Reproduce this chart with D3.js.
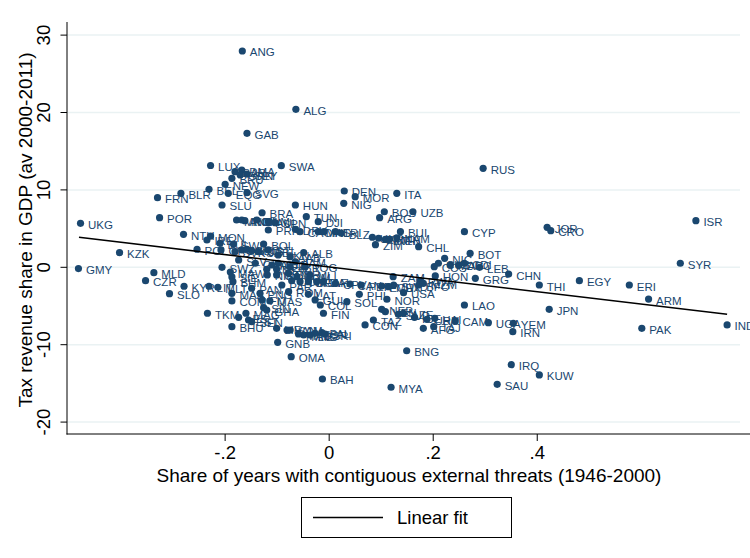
<!DOCTYPE html>
<html lang="en">
<head>
<meta charset="utf-8">
<title>Tax revenue vs external threats</title>
<script src="https://d3js.org/d3.v7.min.js"></script>
<style>
    body { margin: 0; background: #fff; }
    svg { display: block; font-family: "Liberation Sans", Arial, Helvetica, sans-serif; }
    .pt-label { font-size: 11.5px; fill: #1a476f; }
    .tick-label { font-size: 18.5px; fill: #000; }
    .axis-title { font-size: 19px; fill: #000; }
    .legend-text { font-size: 18.5px; fill: #000; }
</style>
</head>
<body>
<svg id="chart" width="750" height="558"></svg>
<script>
// country codes (COW) with x = share of years with threats, y = tax revenue share
const codes = [
  "ANG","ALG","GAB","RUS","LUX","SWA","DMA","BAR","GRN","SEY","BRU","BEL","NEW","EQG","SVG",
  "FRN","BLR","SLU","UKG","POR","HUN","DEN","MOR","NIG","ITA","BOS","UZB","ARG","BUI","CYP",
  "UKR","ETH","KEN","NAM","ZIM","CHL","BOT","NIC","CUB","COS","MAC","DRC","CDI","LEB","CHN",
  "GRG","HON","ZAM","RWA","BFO","MZM","USA","SWD","MEX","ECU","PER","CAN","PHI","NOR","SOL",
  "LAO","NEP","VEN","SUD","AZE","ICE","URU","HAI","TAZ","CON","AFG","TAJ","CAM","UGA","YEM",
  "IRN","BNG","IRQ","KUW","SAU","MYA","BAH","OMA","GNB","JOR","CRO","ISR","SYR","THI","EGY",
  "ERI","ARM","JPN","PAK","IND","KZK","GMY","MLD","CZR","SLO","KYR","LIT","MLT","SWZ","MAW",
  "SIE","BHM","MAA","COM","PAN","PNG","FIJ","SIN","MAS","TKM","LES","MAG","EST","SEN","BHU",
  "GHA","AUS","NIR","BEN","GAM","PAR","ROM","LAT","MLI","SOM","DOM","TUR","CHA","CAF","ZAI",
  "CPV","GUI","COL","FIN","LIE","VAN","SAM","MAD","MNG","LIB","TON","PAL","SRI","NTH","MON",
  "IRE","BUL","SWI","POL","GRC","SVK","AUT","GEO","YUG","SRB","BOL","STL","SKN","AAB","ALB",
  "JAM","STP","LBR","MOZ","GUA","SLV","TOG","SUR","BRA","MNC","AND","ROK","SNM","AUL","SPN",
  "PRK","TUN","DJI","DRV","CAO","MAL","INS","TRI","BLZ","ETM"
];
const xValues = [
  -0.167,-0.064,-0.158,0.296,-0.228,-0.092,-0.168,-0.181,-0.171,-0.158,-0.187,-0.231,-0.200,-0.194,-0.158,
  -0.330,-0.285,-0.206,-0.478,-0.326,-0.065,0.029,0.050,0.028,0.130,0.106,0.161,0.097,0.137,0.260,
  0.083,0.108,0.116,0.130,0.089,0.172,0.271,0.222,0.210,0.202,0.233,0.249,0.260,0.289,0.345,
  0.281,0.204,0.123,0.175,0.172,0.181,0.143,0.124,0.114,0.101,0.061,0.040,0.058,0.111,0.034,
  0.260,0.101,0.108,0.133,0.143,0.164,0.188,0.203,0.085,0.069,0.181,0.201,0.242,0.306,0.354,
  0.353,0.149,0.350,0.404,0.323,0.119,-0.013,-0.073,-0.099,0.419,0.426,0.705,0.675,0.404,0.481,
  0.577,0.614,0.423,0.601,0.765,-0.403,-0.482,-0.337,-0.353,-0.307,-0.279,-0.231,-0.214,-0.206,-0.190,
  -0.187,-0.185,-0.187,-0.187,-0.149,-0.133,-0.129,-0.126,-0.114,-0.234,-0.174,-0.160,-0.155,-0.149,-0.187,
  -0.120,-0.120,-0.119,-0.101,-0.101,-0.091,-0.078,-0.040,-0.037,-0.062,-0.072,-0.056,-0.040,-0.024,-0.011,
  0.012,-0.027,-0.017,-0.011,-0.101,-0.081,-0.075,-0.059,-0.049,-0.037,-0.027,-0.014,-0.008,-0.280,-0.228,
  -0.235,-0.210,-0.184,-0.254,-0.208,-0.181,-0.168,-0.158,-0.149,-0.136,-0.126,-0.117,-0.098,-0.075,-0.049,
  -0.065,-0.098,-0.075,-0.110,-0.142,-0.174,-0.046,-0.078,-0.129,-0.178,-0.168,-0.162,-0.139,-0.117,-0.104,
  -0.117,-0.044,-0.021,-0.065,-0.056,-0.021,-0.010,0.012,0.023,0.095
];
const yValues = [
  27.95,20.41,17.31,12.79,13.15,13.13,12.57,12.35,11.93,12.05,11.50,10.08,10.72,9.56,9.64,
  8.99,9.56,8.05,5.68,6.41,8.05,9.86,9.12,8.27,9.56,7.18,7.18,6.41,4.60,4.60,
  3.88,3.62,3.62,3.82,2.92,2.66,1.81,1.16,0.52,0.08,0.30,0.30,0.52,0.00,-0.87,
  -1.42,-1.12,-1.21,-1.73,-2.29,-2.07,-3.28,-2.29,-2.51,-2.42,-2.29,-2.16,-3.49,-4.13,-4.44,
  -4.87,-5.43,-5.74,-6.07,-5.94,-6.46,-6.72,-6.59,-6.81,-7.45,-7.88,-7.67,-6.90,-7.16,-7.24,
  -8.32,-10.78,-12.58,-13.91,-15.12,-15.50,-14.43,-11.55,-9.69,5.17,4.73,6.02,0.52,-2.29,-1.73,
  -2.29,-4.10,-5.43,-7.88,-7.45,1.89,-0.16,-0.70,-1.73,-3.41,-2.45,-2.45,-2.58,0.00,-0.61,
  -1.25,-1.86,-3.36,-4.35,-2.71,-3.36,-4.22,-5.22,-4.35,-5.94,-6.46,-5.94,-6.81,-7.03,-7.67,
  -5.52,-0.26,-0.99,-0.26,-0.99,-2.29,-3.15,-3.49,-0.99,-1.21,-1.73,-1.86,-1.86,-1.86,-1.86,
  -2.07,-4.22,-4.87,-5.94,-7.88,-8.10,-8.10,-8.62,-8.75,-8.75,-8.53,-8.45,-8.62,4.26,4.04,
  3.53,3.10,3.01,2.33,2.24,2.02,2.24,2.33,2.14,2.02,3.01,2.24,1.59,1.37,1.89,
  0.72,0.52,0.08,0.30,0.52,0.94,0.08,-0.78,7.05,6.11,6.11,6.02,6.11,5.89,5.76,
  4.82,6.54,5.89,4.91,4.60,4.60,4.60,4.60,4.43,3.75
];
// linear fit, end points
const fitX = [-0.481, 0.765];
const fitY = [3.88, -6.07];

const xTicks = [-0.2, 0, 0.2, 0.4];
const xTickLabels = ["-.2", "0", ".2", ".4"];
const yTicks = [-20, -10, 0, 10, 20, 30];

const navy = "#1a476f";
const svg = d3.select("#chart");

const x = d3.scaleLinear().domain([-0.504, 0.809]).range([67, 750]);
const y = d3.scaleLinear().domain([-21.5, 31.5]).range([433.7, 23.5]);

// grid lines
svg.append("g").selectAll("line")
    .data(yTicks)
    .enter().append("line")
    .attr("x1", 67).attr("x2", 740)
    .attr("y1", d => y(d)).attr("y2", d => y(d))
    .attr("stroke", "#eaf2f3").attr("stroke-width", 1.5);

// y axis
const yAxis = svg.append("g");
yAxis.append("line")
    .attr("x1", 67).attr("x2", 67).attr("y1", 22).attr("y2", 434.5)
    .attr("stroke", "#000").attr("stroke-width", 1);
yAxis.selectAll(".yt").data(yTicks).enter().append("line")
    .attr("x1", 60.5).attr("x2", 67)
    .attr("y1", d => y(d)).attr("y2", d => y(d))
    .attr("stroke", "#000");
yAxis.selectAll("text").data(yTicks).enter().append("text")
    .attr("class", "tick-label")
    .attr("text-anchor", "middle")
    .attr("transform", d => `translate(50,${y(d)}) rotate(-90)`)
    .text(d => d);

// x axis
const xAxis = svg.append("g");
xAxis.append("line")
    .attr("x1", 66.5).attr("x2", 750).attr("y1", 434).attr("y2", 434)
    .attr("stroke", "#000").attr("stroke-width", 1);
xAxis.selectAll(".xt").data(xTicks).enter().append("line")
    .attr("x1", d => x(d)).attr("x2", d => x(d))
    .attr("y1", 434).attr("y2", 441)
    .attr("stroke", "#000");
xAxis.selectAll("text").data(xTicks).enter().append("text")
    .attr("class", "tick-label")
    .attr("text-anchor", "middle")
    .attr("x", d => x(d)).attr("y", 459)
    .text((d, i) => xTickLabels[i]);

// titles
svg.append("text").attr("class", "axis-title")
    .attr("text-anchor", "middle")
    .attr("transform", "translate(32,230) rotate(-90)")
    .text("Tax revenue share in GDP (av 2000-2011)");
svg.append("text").attr("class", "axis-title")
    .attr("text-anchor", "middle")
    .attr("x", 409).attr("y", 482)
    .text("Share of years with contiguous external threats (1946-2000)");

// points with labels
const pts = codes.map((c, i) => ({ code: c, x: xValues[i], y: yValues[i] }));
const g = svg.append("g").selectAll("g")
    .data(pts)
    .enter().append("g");
g.append("circle")
    .attr("cx", d => x(d.x)).attr("cy", d => y(d.y))
    .attr("r", 3.6)
    .attr("fill", navy);
g.append("text")
    .attr("class", "pt-label")
    .attr("x", d => x(d.x) + 7.5)
    .attr("y", d => y(d.y) + 5.5)
    .text(d => d.code);

// fit line
svg.append("line")
    .attr("x1", x(fitX[0])).attr("y1", y(fitY[0]))
    .attr("x2", x(fitX[1])).attr("y2", y(fitY[1]))
    .attr("stroke", "#000").attr("stroke-width", 1.6);

// legend
const leg = svg.append("g");
leg.append("rect")
    .attr("x", 301.5).attr("y", 497.5).attr("width", 210).attr("height", 40)
    .attr("fill", "#fff").attr("stroke", "#000");
leg.append("line")
    .attr("x1", 313).attr("x2", 383).attr("y1", 517.5).attr("y2", 517.5)
    .attr("stroke", "#000").attr("stroke-width", 1.6);
leg.append("text").attr("class", "legend-text")
    .attr("x", 397).attr("y", 524)
    .text("Linear fit");
</script>
</body>
</html>
